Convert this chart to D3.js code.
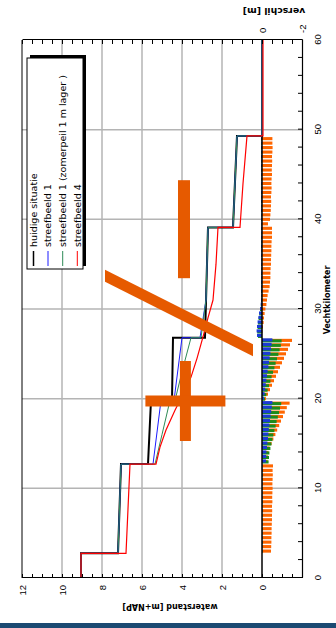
<!DOCTYPE html>
<html>
<head>
<meta charset="utf-8">
<script src="https://cdn.jsdelivr.net/npm/d3@7"></script>
<style>
  body { margin: 0; background: #fff; }
  svg { display: block; font-family: "DejaVu Sans", Verdana, sans-serif; }
  .axis text { font-size: 9.5px; fill: #000; }
  .axis path, .axis line { stroke: #000; }
</style>
</head>
<body>
<div id="chart"></div>
<script>
// waterstandprofielen langs de Vecht: [km, m+NAP]
var kmHuidig = [0, 2.75, 2.75, 12.7, 12.7, 19.8, 19.8, 26.8, 26.8, 39.1, 39.1, 49.3, 49.3, 60];
var wHuidig  = [9.05, 9.05, 7.2, 7.05, 5.7, 5.55, 4.5, 4.45, 2.85, 2.7, 1.45, 1.25, 0, 0];

var kmSb1 = [0, 2.75, 2.75, 12.7, 12.7, 19.8, 19.8, 26.8, 26.8, 31, 39.1, 39.1, 49.3, 49.3, 60];
var wSb1  = [9.05, 9.05, 7.2, 7.05, 5.45, 5.05, 4.4, 4.0, 3.1, 2.8, 2.7, 1.45, 1.25, 0, 0];

var kmSb1z = [0, 2.75, 2.75, 12.7, 12.7, 16, 19.8, 19.8, 23, 26.8, 26.8, 31, 39.1, 39.1, 49.3, 49.3, 60];
var wSb1z  = [9.05, 9.05, 7.2, 7.05, 5.35, 5.0, 4.6, 4.35, 4.0, 3.55, 3.05, 2.8, 2.7, 1.45, 1.25, 0, 0];

var kmSb4 = [0, 2.75, 2.75, 12.7, 12.7, 14.6, 16.5, 18.7, 20.5, 22.4, 24.5, 26.9, 29, 31, 35, 39.1, 39.1, 44, 49.3, 49.3, 60];
var wSb4  = [9.05, 9.05, 6.8, 6.6, 5.3, 5.1, 4.8, 4.35, 3.95, 3.55, 3.25, 2.95, 2.7, 2.45, 2.3, 2.2, 1.1, 0.95, 0.75, -0.05, -0.05];

// verschil t.o.v. huidige situatie [m]
var kmBars = [3, 3.5, 4, 4.5, 5, 5.5, 6, 6.5, 7, 7.5, 8, 8.5, 9, 9.5, 10, 10.5, 11, 11.5, 12, 12.5,
  13, 13.5, 14, 14.5, 15, 15.5, 16, 16.5, 17, 17.5, 18, 18.5, 19, 19.5,
  20, 20.5, 21, 21.5, 22, 22.5, 23, 23.5, 24, 24.5, 25, 25.5, 26, 26.5,
  27, 27.5, 28, 28.5, 29, 29.5, 30, 30.5,
  31, 31.5, 32, 32.5, 33, 33.5, 34, 34.5, 35, 35.5, 36, 36.5, 37, 37.5, 38, 38.5,
  39, 39.5, 40, 40.5, 41, 41.5, 42, 42.5, 43, 43.5, 44, 44.5, 45, 45.5, 46, 46.5, 47, 47.5, 48, 48.5, 49,
  49.5, 50, 50.5, 51, 51.5, 52, 52.5, 53, 53.5, 54, 54.5, 55, 55.5, 56, 56.5, 57, 57.5, 58, 58.5, 59, 59.5];

var dSb1 = [-0.01, -0.01, -0.01, -0.02, -0.01, -0.01, -0.02, -0.01, -0.01, -0.02, -0.01, -0.01, -0.02, -0.01, -0.01, -0.02, -0.01, -0.01, -0.02, -0.01,
  -0.2, -0.21, -0.22, -0.25, -0.27, -0.3, -0.32, -0.34, -0.37, -0.4, -0.43, -0.46, -0.49, -0.52,
  -0.1, -0.13, -0.16, -0.19, -0.22, -0.25, -0.28, -0.32, -0.35, -0.38, -0.42, -0.45, -0.48, -0.52,
  0.25, 0.27, 0.25, 0.22, 0.18, 0.15, 0.1, 0.06,
  0.04, 0.03, 0.04, 0.03, 0.04, 0.03, 0.04, 0.03, 0.04, 0.03, 0.04, 0.03, 0.04, 0.03, 0.04, 0.03,
  0.04, 0.03, 0.04, 0.03, 0.04, 0.03, 0.04, 0.03, 0.04, 0.03, 0.04, 0.03, 0.04, 0.03, 0.04, 0.03, 0.04, 0.03, 0.04, 0.03, 0.04,
  0.04, 0.03, 0.04, 0.03, 0.04, 0.03, 0.04, 0.03, 0.04, 0.03, 0.04, 0.03, 0.04, 0.03, 0.04, 0.03, 0.04, 0.03, 0.04, 0.03, 0.04];

var dSb1z = [-0.02, -0.02, -0.03, -0.02, -0.02, -0.03, -0.02, -0.02, -0.03, -0.02, -0.02, -0.03, -0.02, -0.02, -0.03, -0.02, -0.02, -0.03, -0.02, -0.02,
  -0.33, -0.35, -0.37, -0.42, -0.47, -0.52, -0.57, -0.62, -0.68, -0.73, -0.79, -0.85, -0.9, -0.96,
  -0.15, -0.22, -0.28, -0.35, -0.42, -0.48, -0.55, -0.62, -0.68, -0.75, -0.82, -0.88, -0.94, -0.98,
  0.2, 0.24, 0.22, 0.2, 0.17, 0.14, 0.1, 0.06,
  0.05, 0.04, 0.05, 0.04, 0.05, 0.04, 0.05, 0.04, 0.05, 0.04, 0.05, 0.04, 0.05, 0.04, 0.05, 0.04,
  0.05, 0.04, 0.05, 0.04, 0.05, 0.04, 0.05, 0.04, 0.05, 0.04, 0.05, 0.04, 0.05, 0.04, 0.05, 0.04, 0.05, 0.04, 0.05, 0.04, 0.05,
  0.05, 0.04, 0.05, 0.04, 0.05, 0.04, 0.05, 0.04, 0.05, 0.04, 0.05, 0.04, 0.05, 0.04, 0.05, 0.04, 0.05, 0.04, 0.05, 0.04, 0.05];

var dSb4 = [-0.45, -0.46, -0.47, -0.47, -0.48, -0.48, -0.49, -0.5, -0.5, -0.51, -0.5, -0.52, -0.51, -0.52, -0.53, -0.52, -0.53, -0.54, -0.53, -0.55,
  -0.28, -0.3, -0.32, -0.38, -0.48, -0.57, -0.67, -0.76, -0.86, -0.95, -1.05, -1.14, -1.24, -1.38,
  -0.2, -0.3, -0.4, -0.5, -0.6, -0.7, -0.8, -0.9, -1.0, -1.1, -1.2, -1.3, -1.4, -1.5,
  0.02, -0.02, -0.05, -0.08, -0.1, -0.13, -0.17, -0.22,
  -0.25, -0.28, -0.33, -0.38, -0.4, -0.42, -0.42, -0.43, -0.45, -0.45, -0.46, -0.47, -0.47, -0.48, -0.5, -0.5,
  -0.5, -0.3, -0.4, -0.42, -0.44, -0.45, -0.46, -0.45, -0.47, -0.48, -0.47, -0.48, -0.5, -0.49, -0.5, -0.51, -0.5, -0.52, -0.53, -0.52, -0.52,
  0.03, 0.02, 0.03, 0.02, 0.03, 0.02, 0.03, 0.02, 0.03, 0.02, 0.03, 0.02, 0.03, 0.02, 0.03, 0.02, 0.03, 0.02, 0.03, 0.02, 0.03];

// assen
var kmTicks = [0, 10, 20, 30, 40, 50, 60];
var levelTicks = [0, 2, 4, 6, 8, 10, 12];
var diffTicks = [-2, 0];
var gridKm = [10, 20, 30, 40, 50];
var gridLevels = [2, 4, 6, 8, 10];

var legendNames = ['huidige situatie', 'streefbeeld 1', 'streefbeeld 1 (zomerpeil 1 m lager )', 'streefbeeld 4'];

var W = 336, H = 628;

var svg = d3.select('#chart').append('svg')
  .attr('width', W)
  .attr('height', H);

svg.append('rect').attr('width', W).attr('height', H).attr('fill', '#fff');

// grafiek is liggend opgebouwd (628 breed, 336 hoog) en een kwartslag gedraaid
var g = svg.append('g').attr('transform', 'translate(0,' + H + ') rotate(-90)');

var x = d3.scaleLinear().domain([0, 60]).range([50, 588]);
var y = d3.scaleLinear().domain([-2, 12]).range([302, 22]);
var y2 = d3.scaleLinear().domain([-2, 12]).range([302, 22]);

// rasterlijnen
g.selectAll('.hgrid').data(gridLevels).enter().append('line')
  .attr('x1', x(0)).attr('x2', x(60))
  .attr('y1', d => y(d)).attr('y2', d => y(d))
  .attr('stroke', '#b4b4b4').attr('stroke-width', 1.5);

g.selectAll('.vgrid').data(gridKm).enter().append('line')
  .attr('x1', d => x(d)).attr('x2', d => x(d))
  .attr('y1', y(12)).attr('y2', y(-2))
  .attr('stroke', '#b4b4b4').attr('stroke-width', 1.5);

// staven verschil
var barW = 3.1;
var barSeries = [
  {values: dSb4, color: '#ff6600', off: 0},
  {values: dSb1z, color: '#1c8c1c', off: -0.5},
  {values: dSb1, color: '#1a3ad6', off: 0.5}
];
barSeries.forEach(function(s) {
  g.append('g').selectAll('rect')
    .data(kmBars.map((k, i) => ({k: k, v: s.values[i]})))
    .enter().append('rect')
    .attr('x', d => x(d.k) - barW / 2 + s.off)
    .attr('width', barW)
    .attr('y', d => Math.min(y2(0), y2(d.v)))
    .attr('height', d => Math.abs(y2(d.v) - y2(0)))
    .attr('fill', s.color);
});

g.append('line')
  .attr('x1', x(0)).attr('x2', x(60))
  .attr('y1', y2(0)).attr('y2', y2(0))
  .attr('stroke', '#000').attr('stroke-width', 1.5);

// waterstandlijnen
var line = d3.line().x(d => x(d[0])).y(d => y(d[1]));
var lineSeries = [
  {km: kmHuidig, w: wHuidig, color: '#000000', width: 2},
  {km: kmSb1, w: wSb1, color: '#1a1aff', width: 1},
  {km: kmSb1z, w: wSb1z, color: '#2e8b57', width: 1},
  {km: kmSb4, w: wSb4, color: '#ff0000', width: 1.2}
];
lineSeries.forEach(function(s) {
  g.append('path')
    .datum(s.km.map((k, i) => [k, s.w[i]]))
    .attr('d', line)
    .attr('fill', 'none')
    .attr('stroke', s.color)
    .attr('stroke-width', s.width);
});

// kader en assen
g.append('line').attr('x1', x(0)).attr('x2', x(60)).attr('y1', y(12)).attr('y2', y(12)).attr('stroke', '#000');

g.append('g').attr('class', 'axis')
  .attr('transform', 'translate(' + x(0) + ',0)')
  .call(d3.axisLeft(y).tickValues(d3.range(-2, 12.01, 0.5))
    .tickSizeInner(-4).tickSizeOuter(0).tickPadding(7)
    .tickFormat(d => levelTicks.indexOf(d) >= 0 ? d : ''));

g.append('g').attr('class', 'axis')
  .attr('transform', 'translate(' + x(60) + ',0)')
  .call(d3.axisRight(y2).tickValues(d3.range(-2, 12.01, 0.5))
    .tickSizeInner(-4).tickSizeOuter(0).tickPadding(7)
    .tickFormat(d => diffTicks.indexOf(d) >= 0 ? d : ''));

g.append('g').attr('class', 'axis')
  .attr('transform', 'translate(0,' + y(-2) + ')')
  .call(d3.axisBottom(x).tickValues(d3.range(0, 60.01, 2))
    .tickSizeInner(-4).tickSizeOuter(0).tickPadding(12)
    .tickFormat(d => kmTicks.indexOf(d) >= 0 ? d : ''));

g.selectAll('.axis .domain').attr('stroke-width', 1.2);

// astitels
g.append('text')
  .attr('transform', 'translate(21,170) rotate(-90)')
  .attr('text-anchor', 'middle').attr('dy', '0.35em')
  .attr('font-size', 8).attr('font-weight', 'bold')
  .text('waterstand [m+NAP]');

g.append('text')
  .attr('transform', 'translate(617,274) rotate(-90)')
  .attr('text-anchor', 'middle').attr('dy', '0.35em')
  .attr('font-size', 9.3).attr('font-weight', 'bold')
  .text('verschil [m]');

g.append('text')
  .attr('x', 328).attr('y', 327)
  .attr('text-anchor', 'middle').attr('dy', '0.35em')
  .attr('font-size', 8).attr('font-weight', 'bold')
  .text('Vechtkilometer');

// legenda
var lg = g.append('g');
lg.append('rect').attr('x', 362).attr('y', 30).attr('width', 211).attr('height', 56).attr('fill', '#000');
lg.append('rect').attr('x', 359).attr('y', 27).attr('width', 211).attr('height', 56)
  .attr('fill', '#fff').attr('stroke', '#000').attr('stroke-width', 1);

var legendRows = [33.5, 48, 62.7, 77.3];
legendNames.forEach(function(name, i) {
  lg.append('line')
    .attr('x1', 362).attr('x2', 377)
    .attr('y1', legendRows[i]).attr('y2', legendRows[i])
    .attr('stroke', lineSeries[i].color)
    .attr('stroke-width', i === 0 ? 1.5 : 1);
  lg.append('text')
    .attr('x', 381).attr('y', legendRows[i]).attr('dy', '0.35em')
    .attr('font-size', 9.5)
    .text(name);
});

// oranje markering: plus, minus en schuine streep
var mark = '#e65a00';
var plusAt = {km: 19.74, w: 3.83}, minusAt = {km: 38.9, w: 3.9};
var slash = {km1: 33.7, w1: 7.85, km2: 25.4, w2: 0.45};

g.append('rect').attr('x', x(plusAt.km) - 40).attr('y', y(plusAt.w) - 5.5).attr('width', 80).attr('height', 11).attr('fill', mark);
g.append('rect').attr('x', x(plusAt.km) - 5.5).attr('y', y(plusAt.w) - 40).attr('width', 11).attr('height', 80).attr('fill', mark);
g.append('rect').attr('x', x(minusAt.km) - 49).attr('y', y(minusAt.w) - 6).attr('width', 98).attr('height', 12).attr('fill', mark);

g.append('polygon')
  .attr('points', [
    [x(slash.km1) - 6, y(slash.w1)], [x(slash.km1) + 6, y(slash.w1)],
    [x(slash.km2) + 6, y(slash.w2)], [x(slash.km2) - 6, y(slash.w2)]
  ].map(p => p.join(',')).join(' '))
  .attr('fill', mark);

// donkerblauwe balk onderaan
svg.append('rect').attr('x', 0).attr('y', 623).attr('width', W).attr('height', 5).attr('fill', '#1b4a72');
</script>
</body>
</html>
